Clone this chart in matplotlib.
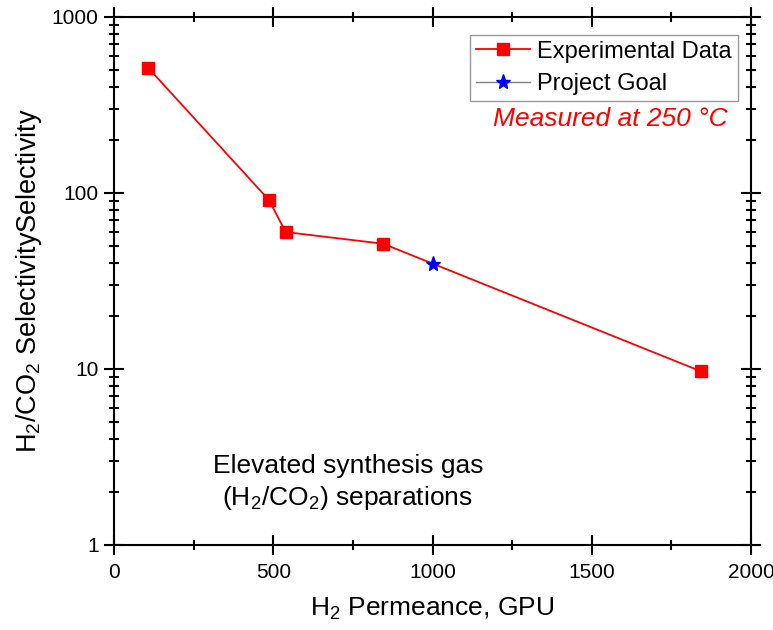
import matplotlib
matplotlib.use("Agg")
import matplotlib.pyplot as plt
from matplotlib.ticker import LogLocator, FixedLocator, NullFormatter, FuncFormatter, MultipleLocator

plt.rcParams['font.family'] = ['Liberation Sans', 'DejaVu Sans']
plt.rcParams['mathtext.fontset'] = 'custom'
plt.rcParams['mathtext.rm'] = 'Liberation Sans'
plt.rcParams['mathtext.it'] = 'Liberation Sans:italic'
plt.rcParams['mathtext.bf'] = 'Liberation Sans:bold'

exp_perm = [107, 487, 539, 845, 1843]
exp_sel = [515, 91, 60, 51.5, 9.7]
goal_perm = [1000]
goal_sel = [39.5]

fig = plt.figure(figsize=(7.73, 6.3), dpi=100)
ax = fig.add_axes([114/773, 1-545/630, (751-114)/773, (545-17)/630])

ax.plot(exp_perm, exp_sel, color='red', marker='s', markersize=8, lw=1.3, label='Experimental Data', zorder=3)
ax.plot(goal_perm, goal_sel, color='gray', marker='*', markersize=11, mfc='blue', mec='blue', lw=1.0, linestyle='none', label='Project Goal', zorder=4)

ax.set_yscale('log')
ax.set_xlim(0, 2000)
ax.set_ylim(1, 1000)
ax.xaxis.set_major_locator(MultipleLocator(500))
ax.xaxis.set_minor_locator(MultipleLocator(250))
ax.yaxis.set_major_locator(FixedLocator([1, 10, 100, 1000]))
ax.yaxis.set_major_formatter(FuncFormatter(lambda v, p: f"{int(v)}"))
ax.yaxis.set_minor_locator(LogLocator(base=10, subs=range(2, 10)))
ax.yaxis.set_minor_formatter(NullFormatter())

ax.tick_params(which='both', direction='inout', top=True, right=True, width=1.5, labelsize=15, colors='black')
ax.tick_params(which='major', length=14)
ax.tick_params(which='minor', length=7)
ax.tick_params(axis='x', which='major', pad=6)
ax.tick_params(axis='y', which='major', pad=4)
for s in ax.spines.values():
    s.set_linewidth(1.5)

ax.set_xlabel('H$_2$ Permeance, GPU', fontsize=19, labelpad=10)
ax.set_ylabel('H$_2$/CO$_2$ SelectivitySelectivity', fontsize=19.5, labelpad=6)

leg = ax.legend(loc='upper right', fontsize=17, frameon=True, fancybox=False, edgecolor='gray',
                handlelength=2.3, borderpad=0.25, labelspacing=0.45, handletextpad=0.3,
                borderaxespad=0.3, bbox_to_anchor=(0.99, 0.98))
leg.get_frame().set_linewidth(1.0)
leg.get_lines()[1].set_linestyle('-')
leg.get_lines()[1].set_color('gray')

ax.text(0.964, 0.807, 'Measured at 250 °C', transform=ax.transAxes, ha='right', va='center',
        color='red', fontsize=19, style='italic')
ax.text(0.367, 0.118, 'Elevated synthesis gas\n(H$_2$/CO$_2$) separations', transform=ax.transAxes,
        ha='center', va='center', fontsize=19, linespacing=1.3)

fig.savefig('out.png', dpi=100)
